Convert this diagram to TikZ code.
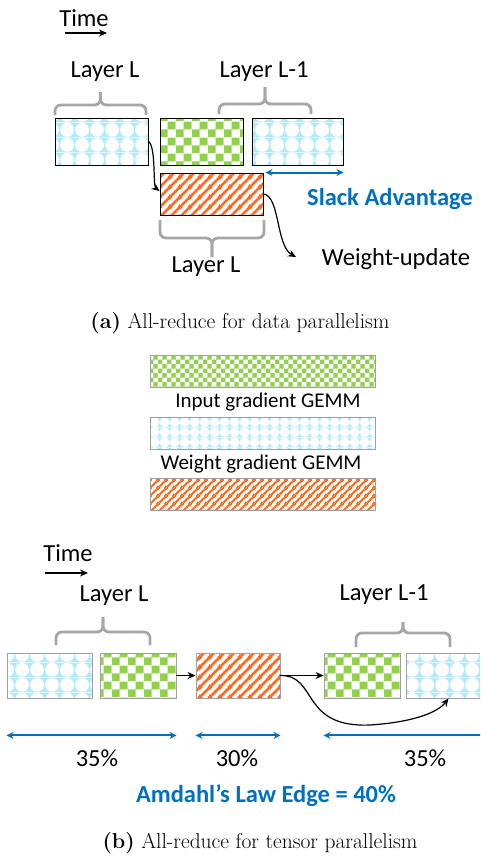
\documentclass[tikz,border=0pt]{standalone}
\usepackage{fontspec}
\newfontfamily\calfont{Carlito}
\usepackage{tikz}
\usetikzlibrary{positioning,arrows.meta,patterns.meta}

\definecolor{gemmGreen}{HTML}{92D050}
\definecolor{gemmBlue}{HTML}{B2EAFC}
\definecolor{gemmOrange}{HTML}{FF6A21}
\definecolor{slackBlue}{HTML}{0070C0}
\definecolor{braceGray}{HTML}{A6A6A6}
\definecolor{boxGray}{HTML}{A0A0A0}

% #1 suffix, #2 check cell, #3 check tile, #4 blob tile, #5 blob radius, #6 stripe tile
\newcommand\gemmpatterns[6]{%
\tikzdeclarepattern{
  name=inputGemm#1, type=colored,
  bottom left={(0pt,0pt)}, top right={(#3pt,#3pt)}, tile size={(#3pt,#3pt)},
  code={\tikzset{x=1pt,y=1pt}
    \fill[white] (0,0) rectangle (#3,#3);
    \fill[gemmGreen] (0,0) rectangle (#2,#2) (#2,#2) rectangle (#3,#3);}}
\tikzdeclarepattern{
  name=weightGemm#1, type=colored,
  bottom left={(0pt,0pt)}, top right={(#4pt,#4pt)}, tile size={(#4pt,#4pt)},
  code={\tikzset{x=1pt,y=1pt}
    \fill[gemmBlue] (0,0) rectangle (#4,#4);
    \fill[white] ({0.5*#4},{0.5*#4}) circle[radius=#5];}}
\tikzdeclarepattern{
  name=updateGemm#1, type=colored,
  bottom left={(0pt,0pt)}, top right={(#6pt,#6pt)}, tile size={(#6pt,#6pt)},
  code={\tikzset{x=1pt,y=1pt}
    \fill[white] (0,0) rectangle (#6,#6);
    \draw[gemmOrange, line width={0.28*#6pt}]
      ({-0.2*#6},{-0.2*#6}) -- ({1.2*#6},{1.2*#6})
      ({-0.7*#6},{0.3*#6}) -- ({0.3*#6},{1.3*#6})
      ({0.3*#6},{-0.7*#6}) -- ({1.3*#6},{0.3*#6});}}
}
\gemmpatterns{}{8}{16}{15}{7.3}{10}
\gemmpatterns{Small}{4.4}{8.8}{10}{5.4}{7.5}

\tikzset{
     flow/.style={-{Stealth[length=8pt,width=7pt]}, line width=1.2pt},
     span/.style={{Stealth[length=7pt,width=7pt]}-{Stealth[length=7pt,width=7pt]}, draw=slackBlue, line width=2pt},
     bracket/.style={draw=braceGray, line width=2.8pt, rounded corners=6pt},
     gemm/.style={minimum height=47pt, inner sep=0pt, line width=0.9pt, draw=black},
     wBox/.style={gemm, pattern=weightGemm},
     iBox/.style={gemm, pattern=inputGemm},
     uBox/.style={gemm, pattern=updateGemm},
     lbl/.style={font=\calfont\fontsize{24.5}{29}\selectfont, inner sep=0pt},
     keyText/.style={font=\calfont\fontsize{21}{25}\selectfont, inner sep=0pt},
     keyBar/.style={minimum width=225pt, minimum height=32pt, inner sep=0pt, draw=boxGray, line width=0.8pt},
     capText/.style={font=\fontsize{21.5}{26}\selectfont, inner sep=0pt}
     }

\begin{document}
\begin{tikzpicture}[x=1pt,y=-1pt]
\useasboundingbox (0,0) rectangle (480,857);
\clip (0,0) rectangle (480,857);

% (a) data parallelism
\node[lbl] (timeA) at (84,18) {Time};
\coordinate (timeAs) at (65,33);
\coordinate (timeAe) at (107,33);
\draw[flow, line width=1.5pt] (timeAs) -- (timeAe);

\node[wBox, minimum width=93pt] (wgradL) at (101.5,141.5) {};
\node[iBox, minimum width=83pt] (igradL1) at (201.5,141.5) {};
\node[wBox, minimum width=91pt] (wgradL1) at (297.5,141.5) {};
\node[uBox, minimum width=103pt, minimum height=42pt] (updL) at (211.5,194) {};

\node[lbl] (layerLa) at (105,72) {Layer L};
\node[lbl] (layerL1a) at (264,72) {Layer L-1};
\node[lbl] (layerLu) at (206,267) {Layer L};
\node[lbl, font=\calfont\bfseries\fontsize{24.5}{29}\selectfont, text=slackBlue] (slack) at (390,199) {Slack Advantage};
\node[lbl] (wupd) at (396,259) {Weight-update};
\coordinate (wupdTip) at (296,257);

\foreach \xa/\xb/\ye/\yl/\yt in {55/146/115/105/92, 219/311/114/104/87, 160/264/220/238/257,
                                56/150/645/632/617, 356/450/647/633/622} {
  \draw[bracket] (\xa,\ye) |- ({(\xa+\xb)/2},\yl) -- ({(\xa+\xb)/2},\yt);
  \draw[bracket] ({(\xa+\xb)/2},\yt) -- ({(\xa+\xb)/2},\yl) -| (\xb,\ye);
}

% Draw edges
\draw[flow] (wgradL.east) .. controls (156,146) and (153,186) .. ([yshift=3pt]updL.west);
\draw[flow] (updL.east) .. controls (280,196) and (276,246) .. (wupdTip);
\draw[span] ([xshift=2pt]updL.north east) -- (wgradL1.south east |- updL.north east);

\node[capText] (capA) at (240,323) {\textbf{(a)} All-reduce for data parallelism};

% legend
\node[keyBar, pattern=inputGemmSmall] (keyIn) at (262.5,371) {};
\node[keyText] (keyInText) at (268,402) {Input gradient GEMM};
\node[keyBar, pattern=weightGemmSmall] (keyW) at (262.5,433) {};
\node[keyText] (keyWText) at (261,464) {Weight gradient GEMM};
\node[keyBar, pattern=updateGemmSmall] (keyU) at (262.5,494) {};

% (b) tensor parallelism
\node[lbl] (timeB) at (68,553) {Time};
\coordinate (timeBs) at (45,573);
\coordinate (timeBe) at (88,573);
\draw[flow, line width=1.5pt] (timeBs) -- (timeBe);

\node[lbl] (layerLb) at (114,596) {Layer L};
\node[lbl] (layerL1b) at (384,595) {Layer L-1};

\tikzset{gemm/.append style={draw=boxGray, minimum height=45pt}}
\node[wBox, minimum width=85pt] (wgradB) at (49.5,675.5) {};
\node[iBox, minimum width=76pt] (igradB) at (138,675.5) {};
\node[uBox, minimum width=84pt] (redB) at (238,675.5) {};
\node[iBox, minimum width=76pt] (igradB1) at (362,675.5) {};
\node[wBox, minimum width=85pt] (wgradB1) at (448.5,675.5) {};

\draw[flow] (igradB) -- (redB);
\draw[flow] (redB) -- (igradB1);
\draw[flow] (redB.east) .. controls (318,675) and (300,728) .. (370,725)
            .. controls (415,722) and (438,712) .. (wgradB1.south);

\draw[span] ([yshift=-37pt]wgradB.south west) -- ([yshift=-37pt]igradB.south east);
\draw[span] ([yshift=-37pt]redB.south west) -- ([yshift=-37pt]redB.south east);
\draw[span] ([yshift=-37pt]igradB1.south west) -- ([yshift=-37pt]wgradB1.south east);

\node[lbl] (pctA) at (97,758) {35\%};
\node[lbl] (pctB) at (237,758) {30\%};
\node[lbl] (pctC) at (425,758) {35\%};
\node[lbl, font=\calfont\bfseries\fontsize{24.5}{29}\selectfont, text=slackBlue] (amdahl) at (266,796) {Amdahl’s Law Edge = 40\%};

\node[capText] (capB) at (260,843) {\textbf{(b)} All-reduce for tensor parallelism};
\end{tikzpicture}
\end{document}
